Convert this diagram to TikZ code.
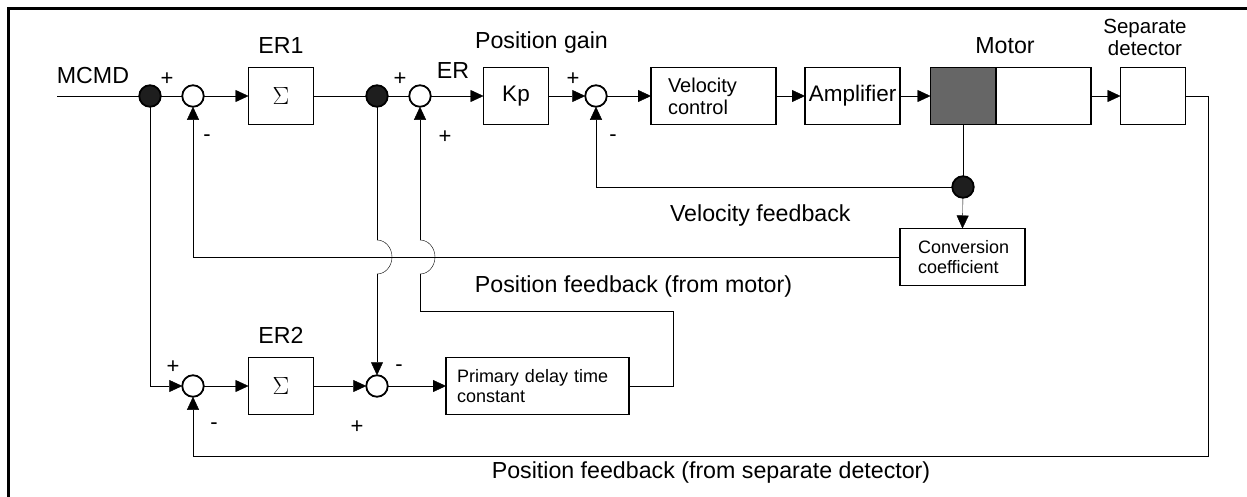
\documentclass[tikz,border=0pt]{standalone}
\usepackage{fontspec}
\setmainfont{Liberation Sans}
\newfontfamily\sigmafont{Liberation Serif}
\usetikzlibrary{arrows.meta}
\pgfdeclarelayer{wires}
\pgfsetlayers{wires,main}
\definecolor{motorgray}{HTML}{666666}
\definecolor{dotblack}{HTML}{1E1E1E}

\begin{document}
\begin{tikzpicture}[x=1pt,y=-1pt,line width=1.8pt,
  every node/.style={inner sep=0pt,outer sep=0pt},
  blk/.style={draw,rectangle,fill=white,minimum width=65pt,minimum height=57pt},
  sumc/.style={draw,circle,fill=white,minimum size=21.5pt},
  dotc/.style={draw,circle,fill=dotblack,minimum size=21.5pt},
  lbl/.style={font=\fontsize{23.2}{27}\selectfont,anchor=base},
  sgn/.style={font=\fontsize{22}{26}\selectfont,anchor=base},
  sig/.style={font=\sigmafont\fontsize{23}{26}\selectfont},
  arr/.style={-{Triangle[length=13pt,width=12pt]}},
  jump/.style={x radius=15pt,y radius=17pt},
]
\useasboundingbox (0,0) rectangle (1247,496);

% outer frame (top and left edges)
\draw[line width=3pt] (8,500) -- (8,8) -- (1250,8);

% ---- forward path ----
\coordinate (in) at (57,96);
\node[dotc] (d1) at (150,96) {};
\node[sumc] (s1) at (193,96) {};
\node[blk,sig] (er1) at (281,96) {$\Sigma$};
\node[dotc] (d2) at (377,96) {};
\node[sumc] (s2) at (420,96) {};
\node[blk,font=\fontsize{22.5}{26}\selectfont] (kp) at (516,96) {Kp};
\node[sumc] (s3) at (596,96) {};
\node[blk,minimum width=125pt,text width=91pt,inner xsep=17pt,align=left,
      font=\fontsize{20}{22}\selectfont] (vel) at (713.5,96) {Velocity\\control};
\node[blk,minimum width=95pt,font=\fontsize{22.5}{26}\selectfont] (amp) at (852.5,96) {Amplifier};
\node[blk,fill=motorgray] (motA) at (963,96) {};
\node[blk,minimum width=95pt] (motB) at (1043.5,96) {};
\node[blk] (det) at (1153,96) {};

% ---- feedback blocks ----
\node[dotc] (vd) at (963,187) {};
\node[blk,minimum width=125pt,text width=89pt,inner xsep=18pt,align=left,
      font=\fontsize{18}{20}\selectfont] (conv) at (962.5,257) {Conversion\\coefficient};

% ---- lower path ----
\node[sumc] (t1) at (193,386) {};
\node[blk,sig] (er2) at (281,386) {$\Sigma$};
\node[sumc] (t2) at (377,386) {};
\node[blk,minimum width=183pt,text width=161pt,inner xsep=11pt,align=left,
      font=\fontsize{18}{20}\selectfont] (pd) at (537.5,386) {Primary delay time\\constant};

% ---- labels ----
\node[lbl] (lmcmd) at (93,83) {MCMD};
\node[lbl] (ler1) at (281,53) {ER1};
\node[lbl] (ler) at (453,78) {ER};
\node[lbl] (lpg) at (541.5,48) {Position gain};
\node[lbl] (lmot) at (1005,53) {Motor};
\node[font=\fontsize{20.5}{22}\selectfont,align=center] (lsep) at (1145,37) {Separate\\detector};
\node[lbl,anchor=base west] (lvf) at (670,221) {Velocity feedback};
\node[lbl] (lpfm) at (633.5,292) {Position feedback (from motor)};
\node[lbl] (ler2) at (281,343) {ER2};
\node[lbl] (lpfs) at (711,478) {Position feedback (from separate detector)};

% ---- signs at the summing points ----
\node[sgn] (p1) at (167,85) {+};
\node[sgn] (m1) at (207,141) {-};
\node[sgn] (p2) at (400,85) {+};
\node[sgn] (p3) at (445,143) {+};
\node[sgn] (p4) at (573,85) {+};
\node[sgn] (m2) at (613,141) {-};
\node[sgn] (p5) at (173,373) {+};
\node[sgn] (m3) at (214,429) {-};
\node[sgn] (m4) at (399,371) {-};
\node[sgn] (p6) at (357,433) {+};

% crossing points of the branch lines with the motor feedback line
\coordinate (j1a) at (377,240);
\coordinate (j1b) at (377,274);
\coordinate (j2a) at (420,240);
\coordinate (j2b) at (420,274);
\coordinate (pdr) at (673,386);
\coordinate (pdt) at (673,311);

\begin{pgfonlayer}{wires}
  % forward path
  \draw (in) -- (d1) -- (s1);
  \draw[arr] (s1) -- (er1);
  \draw (er1) -- (d2) -- (s2);
  \draw[arr] (s2) -- (kp);
  \draw[arr] (kp) -- (s3);
  \draw[arr] (s3) -- (vel);
  \draw[arr] (vel) -- (amp);
  \draw[arr] (amp) -- (motA);
  \draw[arr] (motB) -- (det);
  % velocity feedback
  \draw (motA.south) -- (vd);
  \draw[arr] (vd) -- (conv.north);
  \draw[arr] (vd) -| (s3.south);
  % position feedback from motor
  \draw[arr] (conv.west) -| (s1.south);
  % position feedback from separate detector
  \draw[arr] (det.east) -- (1208,96) -- (1208,456) -| (t1.south);
  % lower path
  \draw[arr] (d1) |- (t1.west);
  \draw[arr] (t1) -- (er2);
  \draw[arr] (er2) -- (t2);
  \draw[arr] (t2) -- (pd);
  % branch from ER1 output, jumping over the feedback line
  \draw (d2) -- (j1a);
  \draw (j1a) arc[start angle=90,end angle=-90,jump];
  \draw[arr] (j1b) -- (t2.north);
  % delayed command back to the ER summing point, jumping over the feedback line
  \draw (pd.east) -- (pdr) -- (pdt) -- (420,311) -- (j2b);
  \draw (j2b) arc[start angle=-90,end angle=90,jump];
  \draw[arr] (j2a) -- (s2.south);
\end{pgfonlayer}
\end{tikzpicture}
\end{document}
